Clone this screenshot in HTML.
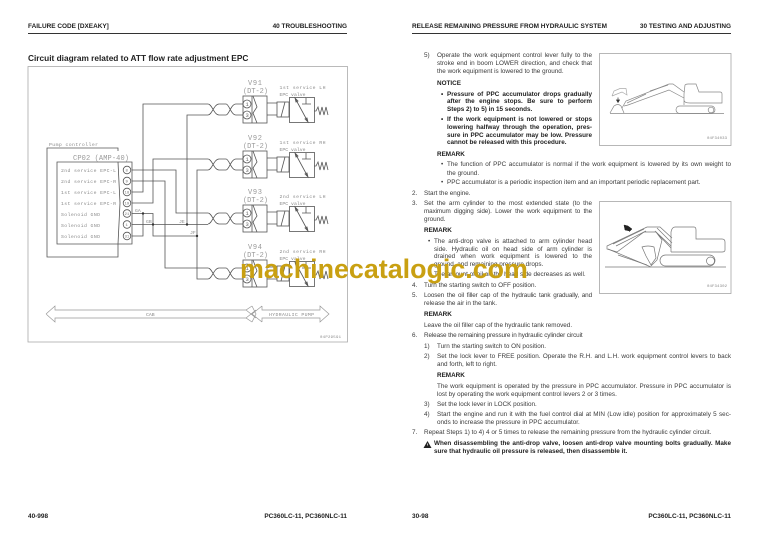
<!DOCTYPE html>
<html><head><meta charset="utf-8">
<style>
html,body{margin:0;padding:0;background:#fff}
body{width:768px;height:543px;overflow:hidden;position:relative;font-family:"Liberation Sans",sans-serif;font-size:6.35px;color:#3a3a3a}
#p{position:absolute;left:0;top:0;width:768px;height:543px;filter:blur(.3px)}
.l,.j,.b,.r{position:absolute;height:8px;line-height:8px;white-space:nowrap;transform:translateY(-4px)}
.j{text-align:justify;text-align-last:justify;white-space:normal}
.b{font-weight:bold;color:#222}
.h{font-weight:bold;color:#222;font-size:6.45px}
.r{text-align:right}
.t{letter-spacing:-.12px}
svg{position:absolute;left:0;top:0}
svg text{font-family:"Liberation Mono",monospace}
</style></head><body><div id="p">
<svg width="768" height="543" viewBox="0 0 768 543" fill="none" stroke-linejoin="miter">
<path d="M28 33.5H347M412 33.5H731" stroke="#333" stroke-width="1"/>
<rect x="28" y="66.5" width="319.5" height="275.5" stroke="#aaa" stroke-width=".8"/>
<rect x="599.5" y="53.5" width="131.5" height="92" stroke="#999" stroke-width=".7"/>
<rect x="599.5" y="201.5" width="131.5" height="92" stroke="#999" stroke-width=".7"/>
<defs>
<g id="unit" stroke="#555" stroke-width=".8">
<path d="M208 0C212 0 214 11 219 11H226C229 11 231 0 236 0H243M208 11C212 11 214 0 219 0H226C229 0 231 11 236 11H243"/>
<rect x="243" y="-8" width="24" height="27"/>
<circle cx="247" cy="0" r="4"/><circle cx="247" cy="11" r="4"/>
<path d="M253 -8L257 3 253 9 257 19M252 -8V19"/>
<path d="M267 -1H277M267 11H277"/>
<rect x="277" y="-2" width="12" height="15"/><path d="M281 13L285 -2"/>
<rect x="289.5" y="-6.5" width="25" height="25"/>
<path d="M295 -6L308 18M295 -6l1 4 2-1zM308 18l-1-4-2 1zM302 0H311M306 0V-6"/>
<path d="M314 7H316L318 3 320 11 322 3 324 11 326 3 328 11"/>
</g>
</defs>
<use href="#unit" y="104"/><use href="#unit" y="159"/><use href="#unit" y="213"/><use href="#unit" y="268"/>
<g stroke="#555" stroke-width=".8">
<path d="M208 104H143V192H132"/>
<path d="M208 115H187V224"/>
<path d="M208 159H153V203H132"/>
<path d="M208 170H197V279H208"/>
<path d="M132 170H176V213H208"/>
<path d="M132 181H165V268H208"/>
<path d="M132 213.5H153V236H197"/>
<path d="M132 224.5H208"/>
<path d="M132 236H143V213.5"/>
<path d="M118 151V148H47V257H118V244"/>
<path d="M118 162L120 203 118 244"/>
<path d="M118 162H132V244H57V162H118"/>
<circle cx="127" cy="170" r="3.8"/><circle cx="127" cy="181" r="3.8"/><circle cx="127" cy="192" r="3.8"/><circle cx="127" cy="203" r="3.8"/><circle cx="127" cy="213.5" r="3.8"/><circle cx="127" cy="224.5" r="3.8"/><circle cx="127" cy="236" r="3.8"/>
</g>
<g fill="#333"><circle cx="143" cy="213.5" r="1.2"/><circle cx="153" cy="224.5" r="1.2"/><circle cx="187" cy="224.5" r="1.2"/><circle cx="197" cy="236" r="1.2"/></g>
<path d="M46 314L55 306V310H246L252 306M46 314L55 322V318H246L252 322M252 306L256 314 252 322M262 306L252 314 262 322M262 306L262 310H320V306L329 314 320 322V318H262V322M246 310L256 318M246 318L256 310" stroke="#999" stroke-width=".7"/>
<g fill="#8a8a8a" font-size="4.8">
<text x="248" y="85" font-size="7" fill="#999" textLength="14">V91</text>
<text x="243" y="93" font-size="7" fill="#999" textLength="25">(DT-2)</text>
<text x="248" y="140" font-size="7" fill="#999" textLength="14">V92</text>
<text x="243" y="148" font-size="7" fill="#999" textLength="25">(DT-2)</text>
<text x="248" y="194" font-size="7" fill="#999" textLength="14">V93</text>
<text x="243" y="202" font-size="7" fill="#999" textLength="25">(DT-2)</text>
<text x="248" y="249" font-size="7" fill="#999" textLength="14">V94</text>
<text x="243" y="257" font-size="7" fill="#999" textLength="25">(DT-2)</text>
<text x="279.5" y="89" textLength="46">1st service LH</text><text x="279.5" y="96" textLength="26">EPC valve</text>
<text x="279.5" y="144" textLength="46">1st service RH</text><text x="279.5" y="151" textLength="26">EPC valve</text>
<text x="279.5" y="198" textLength="46">2nd service LH</text><text x="279.5" y="205" textLength="26">EPC valve</text>
<text x="279.5" y="253" textLength="46">2nd service RH</text><text x="279.5" y="260" textLength="26">EPC valve</text>
<text x="49" y="146" textLength="49">Pump controller</text>
<text x="73" y="160" font-size="7" fill="#999" textLength="56">CP02 (AMP-40)</text>
<text x="61" y="172" textLength="55">2nd service EPC-L</text>
<text x="61" y="183" textLength="55">2nd service EPC-R</text>
<text x="61" y="194" textLength="55">1st service EPC-L</text>
<text x="61" y="205" textLength="55">1st service EPC-R</text>
<text x="61" y="216" textLength="39">Solenoid GND</text>
<text x="61" y="227" textLength="39">Solenoid GND</text>
<text x="61" y="238" textLength="39">Solenoid GND</text>
<text x="135" y="212">GA</text><text x="146" y="223">GB</text><text x="179" y="223">JE</text><text x="190" y="234">JF</text>
<text x="146" y="316">CAB</text>
<text x="269" y="316" textLength="45">HYDRAULIC PUMP</text>
<text x="320" y="338" font-size="4" textLength="21">04P29591</text>
<text x="707" y="139" font-size="4" textLength="20">04F34033</text>
<text x="707" y="287" font-size="4" textLength="20">04F34302</text>
</g>
<g font-size="4" fill="#777">
<text x="125.5" y="171.5">8</text><text x="125.5" y="182.5">9</text><text x="124.5" y="193.5">18</text><text x="124.5" y="204.5">19</text><text x="124.5" y="215">21</text><text x="125.5" y="226">1</text><text x="124.5" y="237.5">31</text>
</g>
<g font-size="5.5" fill="#666">
<text x="245.5" y="106">1</text><text x="245.5" y="117">3</text><text x="245.5" y="161">1</text><text x="245.5" y="172">3</text><text x="245.5" y="215">1</text><text x="245.5" y="226">3</text><text x="245.5" y="270">1</text><text x="245.5" y="281">3</text>
</g>
<!-- excavator 1 -->
<g stroke="#888" stroke-width=".7">
<path d="M610 113.5H724"/>
<rect x="676" y="106" width="39" height="7.5" rx="3.7"/><circle cx="711" cy="110" r="2.8"/>
<path d="M684 105V94L685 85Q686 84 688 84H696L699 92H720Q722 92 722 94V103H690Q684 103 684 100"/>
<path d="M684 92L673 84H669L626 101 622 108M624 106L628 105L669 90 684 98"/>
<path d="M627 103L646 94M650 91L668 85"/>
<path d="M610 113L614 106Q618 103 621 106L624 113"/>
<path d="M612 96L614 91 620 88.5H626L627 95 622 92 612 96" stroke="#aaa"/>
</g>
<path d="M618 97.5V100.5M616.5 100L618 102.5 619.5 100z" stroke="#333" stroke-width=".7" fill="#333"/>
<!-- excavator 2 -->
<g stroke="#777" stroke-width=".7">
<path d="M605 267H726"/>
<rect x="660" y="255" width="55" height="11" rx="5.5"/><circle cx="710.500" cy="261" r="4"/>
<path d="M671 252V232Q672 227 675 227H694Q696 227 696 230V239H722Q725 239 725 242V250Q725 252 722 252H671"/>
<path d="M672 238L660 227H647L607 246 607 249 617 252 644 232H656L671 248M656 232L662 240 657 260 651 266"/>
<path d="M608 249L651 267M613 244L644 229M616 246L646 231"/>
<path d="M618 255L647 265"/>
<path d="M642 247Q648 245 654 247L656 258 651 265 646 256Z"/>
<path d="M657 228L672 243M655 231L671 246"/>
</g>
<path d="M624 225L628 226 632 229 629 232 630 231 625 230Z" fill="#222" stroke="#222" stroke-width=".5"/>
<path d="M427.5 441L431.5 448H423.5Z" fill="#222"/>
<path d="M427.5 443.5V445.5" stroke="#fff" stroke-width=".7"/>
</svg>

<div class="l h" style="left:28px;top:27px">FAILURE CODE [DXEAKY]</div>
<div class="r h" style="left:247px;width:100px;top:27px">40 TROUBLESHOOTING</div>
<div class="l h" style="left:412px;top:27px">RELEASE REMAINING PRESSURE FROM HYDRAULIC SYSTEM</div>
<div class="r h" style="left:611px;width:120px;top:27px">30 TESTING AND ADJUSTING</div>
<div class="l" style="left:28px;top:58px;font-weight:bold;font-size:8.3px;color:#222">Circuit diagram related to ATT flow rate adjustment EPC</div>

<div class="l" style="left:424px;top:56px">5)</div>
<div class="j" style="left:437px;width:155px;top:56px">Operate the work equipment control lever fully to the</div>
<div class="j" style="left:437px;width:155px;top:64px">stroke end in boom LOWER direction, and check that</div>
<div class="l" style="left:437px;top:72px">the work equipment is lowered to the ground.</div>
<div class="b" style="left:437px;top:84px">NOTICE</div>
<div class="b" style="left:441px;top:94.5px">•</div>
<div class="b j" style="left:447px;width:145px;top:94.5px">Pressure of PPC accumulator drops gradually</div>
<div class="b j" style="left:447px;width:145px;top:102.3px">after the engine stops. Be sure to perform</div>
<div class="b" style="left:447px;top:110px">Steps 2) to 5) in 15 seconds.</div>
<div class="b" style="left:441px;top:120px">•</div>
<div class="b j" style="left:447px;width:145px;top:120px">If the work equipment is not lowered or stops</div>
<div class="b j" style="left:447px;width:145px;top:128px">lowering halfway through the operation, pres-</div>
<div class="b j" style="left:447px;width:145px;top:135.7px">sure in PPC accumulator may be low. Pressure</div>
<div class="b" style="left:447px;top:143.3px">cannot be released with this procedure.</div>
<div class="b" style="left:437px;top:155px">REMARK</div>
<div class="l" style="left:441px;top:165px">•</div>
<div class="j" style="left:447px;width:284px;top:165px">The function of PPC accumulator is normal if the work equipment is lowered by its own weight to</div>
<div class="l" style="left:447px;top:173.5px">the ground.</div>
<div class="l" style="left:441px;top:183.3px">•</div>
<div class="l" style="left:447px;top:183.3px">PPC accumulator is a periodic inspection item and an important periodic replacement part.</div>
<div class="l" style="left:412px;top:193.7px">2.</div>
<div class="l" style="left:424px;top:193.7px">Start the engine.</div>
<div class="l" style="left:412px;top:204px">3.</div>
<div class="j" style="left:424px;width:168px;top:204px">Set the arm cylinder to the most extended state (to the</div>
<div class="j t" style="left:424px;width:168px;top:212px">maximum digging side). Lower the work equipment to the</div>
<div class="l" style="left:424px;top:219.7px">ground.</div>
<div class="b" style="left:424px;top:231.3px">REMARK</div>
<div class="l" style="left:428px;top:241.7px">•</div>
<div class="j" style="left:434px;width:158px;top:241.7px">The anti-drop valve is attached to arm cylinder head</div>
<div class="j" style="left:434px;width:158px;top:249.7px">side. Hydraulic oil on head side of arm cylinder is</div>
<div class="j" style="left:434px;width:158px;top:257.3px">drained when work equipment is lowered to the</div>
<div class="l" style="left:434px;top:265.3px">ground, and remaining pressure drops.</div>
<div class="l" style="left:428px;top:275.3px">•</div>
<div class="l" style="left:434px;top:275.3px">The amount of oil on the head side decreases as well.</div>
<div class="l" style="left:412px;top:285.7px">4.</div>
<div class="l" style="left:424px;top:285.7px">Turn the starting switch to OFF position.</div>
<div class="l" style="left:412px;top:296px">5.</div>
<div class="j t" style="left:424px;width:168px;top:296px">Loosen the oil filler cap of the hydraulic tank gradually, and</div>
<div class="l" style="left:424px;top:304px">release the air in the tank.</div>
<div class="b" style="left:424px;top:315.3px">REMARK</div>
<div class="l" style="left:424px;top:326px">Leave the oil filler cap of the hydraulic tank removed.</div>
<div class="l" style="left:412px;top:336.3px">6.</div>
<div class="l t" style="left:424px;width:168px;top:336.3px">Release the remaining pressure in hydraulic cylinder circuit</div>
<div class="l" style="left:424px;top:346.7px">1)</div>
<div class="l" style="left:437px;top:346.7px">Turn the starting switch to ON position.</div>
<div class="l" style="left:424px;top:356.7px">2)</div>
<div class="j" style="left:437px;width:294px;top:356.7px">Set the lock lever to FREE position. Operate the R.H. and L.H. work equipment control levers to back</div>
<div class="l" style="left:437px;top:364.7px">and forth, left to right.</div>
<div class="b" style="left:437px;top:376.3px">REMARK</div>
<div class="j" style="left:437px;width:294px;top:387px">The work equipment is operated by the pressure in PPC accumulator. Pressure in PPC accumulator is</div>
<div class="l" style="left:437px;top:394.7px">lost by operating the work equipment control levers 2 or 3 times.</div>
<div class="l" style="left:424px;top:404.7px">3)</div>
<div class="l" style="left:437px;top:404.7px">Set the lock lever in LOCK position.</div>
<div class="l" style="left:424px;top:415.3px">4)</div>
<div class="j" style="left:437px;width:294px;top:415.3px">Start the engine and run it with the fuel control dial at MIN (Low idle) position for approximately 5 sec-</div>
<div class="l" style="left:437px;top:423px">onds to increase the pressure in PPC accumulator.</div>
<div class="l" style="left:412px;top:433.3px">7.</div>
<div class="l" style="left:424px;top:433.3px">Repeat Steps 1) to 4) 4 or 5 times to release the remaining pressure from the hydraulic cylinder circuit.</div>
<div class="b j" style="left:434px;width:297px;top:444.3px">When disassembling the anti-drop valve, loosen anti-drop valve mounting bolts gradually. Make</div>
<div class="b" style="left:434px;top:452.3px">sure that hydraulic oil pressure is released, then disassemble it.</div>

<div class="l h" style="left:28px;top:517px">40-998</div>
<div class="r h" style="left:227px;width:120px;top:517px">PC360LC-11, PC360NLC-11</div>
<div class="l h" style="left:412px;top:517px">30-98</div>
<div class="r h" style="left:611px;width:120px;top:517px">PC360LC-11, PC360NLC-11</div>

<div style="position:absolute;left:240px;top:249px;font-weight:bold;font-size:26.85px;line-height:40px;color:#c9a012;white-space:nowrap">machinecatalogic.com</div>
</div></body></html>
